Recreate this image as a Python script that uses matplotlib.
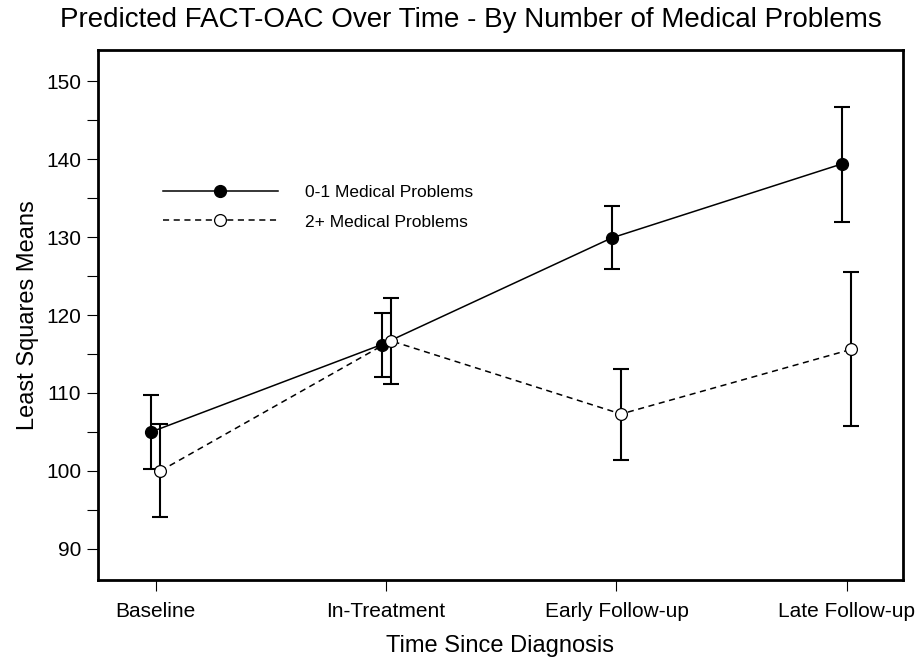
import matplotlib
matplotlib.use("Agg")
import matplotlib.pyplot as plt
from matplotlib.ticker import MultipleLocator

plt.rcParams["font.family"] = ["Liberation Sans", "DejaVu Sans"]

time_points = ["Baseline", "In-Treatment", "Early Follow-up", "Late Follow-up"]

# 0-1 medical problems
low_means = [105.0, 116.2, 129.9, 139.4]
low_lower = [100.2, 112.0, 125.9, 132.0]
low_upper = [109.7, 120.2, 134.0, 146.7]

# 2+ medical problems
high_means = [100.0, 116.7, 107.3, 115.6]
high_lower = [94.1, 111.1, 101.4, 105.7]
high_upper = [106.0, 122.2, 113.1, 125.5]

OFFSET = 0.02

fig = plt.figure(figsize=(9.19, 6.68), dpi=100)
ax = fig.add_axes([0.1066, 0.1317, 0.876, 0.7934])

x = list(range(len(time_points)))
x_low = [i - OFFSET for i in x]
x_high = [i + OFFSET for i in x]

low_err = [[m - lo for m, lo in zip(low_means, low_lower)],
           [hi - m for m, hi in zip(low_means, low_upper)]]
high_err = [[m - lo for m, lo in zip(high_means, high_lower)],
            [hi - m for m, hi in zip(high_means, high_upper)]]

ax.errorbar(x_low, low_means, yerr=low_err, fmt="none", ecolor="black",
            elinewidth=1.5, capsize=6, capthick=1.5, zorder=2)
ax.errorbar(x_high, high_means, yerr=high_err, fmt="none", ecolor="black",
            elinewidth=1.5, capsize=6, capthick=1.5, zorder=2)

ax.plot(x_low, low_means, color="black", linewidth=1.1, marker="o",
        markersize=8.5, markerfacecolor="black", markeredgecolor="black",
        label="0-1 Medical Problems", zorder=3)
ax.plot(x_high, high_means, color="black", linewidth=1.1, dashes=(4, 3),
        marker="o", markersize=8.5, markerfacecolor="white",
        markeredgecolor="black", markeredgewidth=0.9,
        label="2+ Medical Problems", zorder=4)

ax.set_xlim(-0.251, 3.244)
ax.set_ylim(86, 154)
ax.set_xticks(x)
ax.set_xticklabels(time_points)
ax.yaxis.set_major_locator(MultipleLocator(10))
ax.yaxis.set_minor_locator(MultipleLocator(5))
ax.set_yticks(range(90, 151, 10))

ax.tick_params(axis="both", which="both", direction="out", length=8,
               width=0.8, labelsize=15, pad=4)
ax.tick_params(axis="x", pad=8)
for spine in ax.spines.values():
    spine.set_linewidth(2)

ax.set_xlabel("Time Since Diagnosis", fontsize=17, labelpad=10)
ax.set_ylabel("Least Squares Means", fontsize=17, labelpad=5)
fig.text(0.512, 1 - 20 / 668, "Predicted FACT-OAC Over Time - By Number of Medical Problems",
         ha="center", va="center", fontsize=20)

ax.legend(loc="center left", bbox_to_anchor=(0.0807, 0.703), frameon=False,
          fontsize=12.5, handlelength=6.6, handletextpad=1.6,
          borderpad=0, borderaxespad=0, labelspacing=0.8)

fig.savefig("out.png", dpi=100)
